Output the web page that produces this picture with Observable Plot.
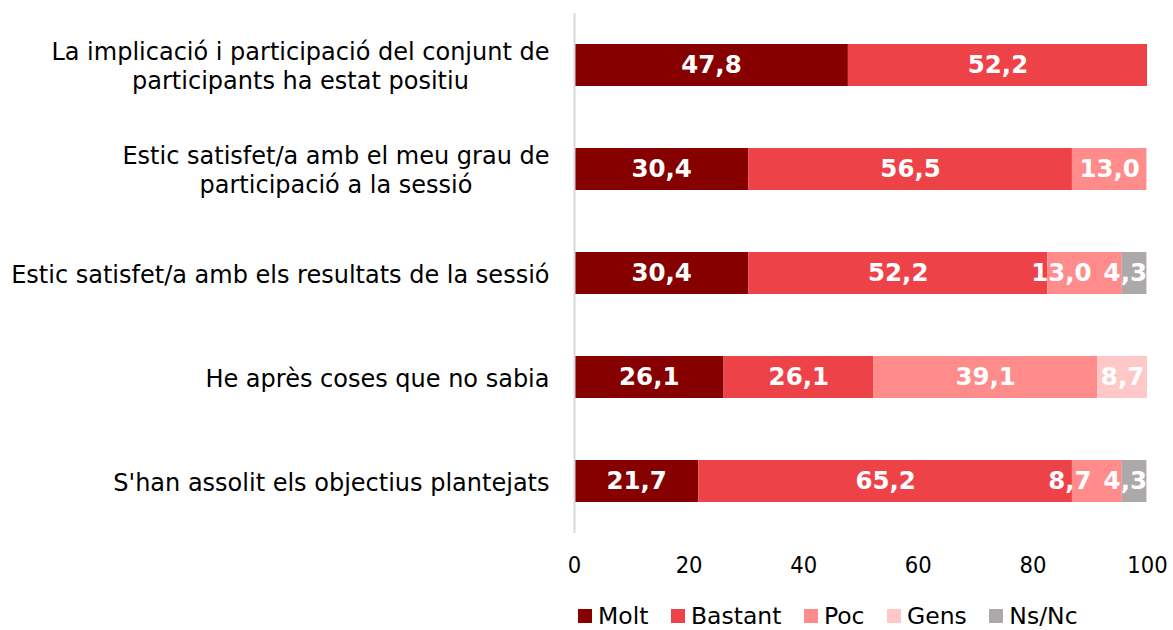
<!DOCTYPE html>
<html>
<head>
<meta charset="utf-8">
<script src="https://cdn.jsdelivr.net/npm/d3@7"></script>
<script src="https://cdn.jsdelivr.net/npm/@observablehq/plot@0.6"></script>
<style>
  html, body { margin: 0; padding: 0; background: #fff; }
  body { width: 1173px; height: 630px; overflow: hidden; font-family: "DejaVu Sans", sans-serif; }
  #chart svg { display: block; font-family: "DejaVu Sans", sans-serif; }
  #chart svg g[aria-label="x-axis tick label"] { font-family: "DejaVu Sans Condensed", "DejaVu Sans", sans-serif; font-stretch: condensed; }
  #legend { display: flex; align-items: center; height: 28px; line-height: 28px; margin-top: 13px; padding-left: 578px; font-size: 23.5px; color: #000; }
  #legend .item { display: flex; align-items: center; margin-right: 22.5px; }
  #legend .sw { width: 14px; height: 14px; margin-right: 6px; }
</style>
</head>
<body>
<div id="chart"></div>
<div id="legend"></div>
<script>
const categories = [
  "La implicació i participació del conjunt de\nparticipants ha estat positiu",
  "Estic satisfet/a amb el meu grau de\nparticipació a la sessió",
  "Estic satisfet/a amb els resultats de la sessió",
  "He après coses que no sabia",
  "S'han assolit els objectius plantejats"
];
const series = ["Molt", "Bastant", "Poc", "Gens", "Ns/Nc"];
const molt    = [47.8, 30.4, 30.4, 26.1, 21.7];
const bastant = [52.2, 56.5, 52.2, 26.1, 65.2];
const poc     = [0, 13.0, 13.0, 39.1, 8.7];
const gens    = [0, 0, 0, 8.7, 0];
const nsnc    = [0, 0, 4.3, 0, 4.3];
const colors  = ["#870000", "#EE4249", "#FF8B8B", "#FFC7C7", "#ADA9A9"];
const xTicks  = [0, 20, 40, 60, 80, 100];

const seriesValues = [molt, bastant, poc, gens, nsnc];
const data = [];
categories.forEach((c, i) => {
  series.forEach((s, j) => data.push({cat: c, series: s, value: seriesValues[j][i]}));
});
const fmt = v => d3.format(".1f")(v).replace(".", ",");

const chart = Plot.plot({
  width: 1173,
  height: 589,
  marginLeft: 574,
  marginRight: 26,
  marginTop: 13,
  marginBottom: 56,
  style: {fontSize: "24px", color: "#000", background: "#fff"},
  x: {domain: [0, 100], ticks: xTicks, label: null},
  y: {domain: categories, paddingInner: 0.6, paddingOuter: 0.3, label: null},
  color: {domain: series, range: colors},
  marks: [
    Plot.barX(data, Plot.stackX({x: "value", y: "cat", fill: "series", order: series})),
    Plot.ruleX([0], {stroke: "#d9d9d9", strokeWidth: 2}),
    Plot.text(data.filter(d => d.value > 0), Plot.stackX({
      x: "value", y: "cat", z: "series", order: series,
      text: d => fmt(d.value), fill: "white", fontWeight: "bold", fontSize: 24.5,
      className: "seglab"
    })),
    Plot.axisX({ticks: xTicks, tickSize: 0, tickPadding: 23, fontSize: 23.5, label: null}),
    Plot.axisY({tickSize: 0, tickPadding: 25, fontSize: 24, lineHeight: 1.17, label: null})
  ]
});
document.getElementById("chart").appendChild(chart);

// center multi-line y labels relative to each other, block right-aligned
chart.querySelectorAll('g[aria-label="y-axis tick label"] text').forEach(t => {
  const spans = t.querySelectorAll("tspan");
  if (spans.length < 2) return;
  const widths = Array.from(spans, s => s.getComputedTextLength());
  const maxW = Math.max(...widths);
  t.setAttribute("text-anchor", "middle");
  t.style.textAnchor = "middle";
  spans.forEach(s => {
    const x0 = +(s.getAttribute("x") || 0);
    s.setAttribute("x", x0 - maxW / 2);
  });
});

// keep segment labels inside the plot and avoid overlaps (as the spreadsheet does)
const xRight = chart.scale("x").apply(100);
const svgLeft = chart.getBoundingClientRect().left;
const segTexts = Array.from(chart.querySelectorAll('.seglab text'));
const rows = d3.groups(segTexts, t => Math.round(t.getBoundingClientRect().top));
rows.forEach(([, texts]) => {
  texts.sort((a, b) => b.getBoundingClientRect().left - a.getBoundingClientRect().left);
  let limit = xRight;
  texts.forEach(t => {
    const r = t.getBoundingClientRect();
    const right = r.right - svgLeft;
    let shift = 0;
    if (right > limit) shift = right - limit;
    if (shift > 0) t.setAttribute("transform", `translate(${-shift},0) ` + (t.getAttribute("transform") || ""));
    limit = r.left - svgLeft - shift - 12;
  });
});

const legend = document.getElementById("legend");
series.forEach((s, i) => {
  const item = document.createElement("div");
  item.className = "item";
  const sw = document.createElement("div");
  sw.className = "sw";
  sw.style.background = colors[i];
  const lab = document.createElement("span");
  lab.textContent = s;
  item.appendChild(sw);
  item.appendChild(lab);
  legend.appendChild(item);
});
</script>
</body>
</html>
